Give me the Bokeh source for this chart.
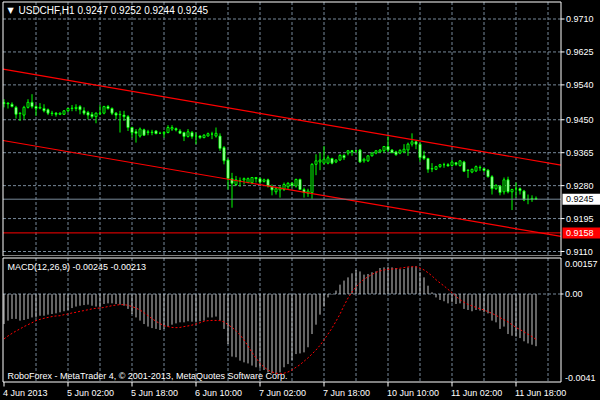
from bokeh.plotting import figure
from bokeh.models import ColumnDataSource, Range1d, GlobalInlineStyleSheet
from bokeh.layouts import column
from bokeh.embed import file_html
from bokeh.resources import INLINE
from bokeh.core.properties import value

# ---------------- data ----------------
symbol = "USDCHF,H1"

open_ = [0.9494, 0.9493, 0.9490, 0.9482, 0.9467, 0.9462, 0.9482, 0.9495, 0.9484, 0.9480,
         0.9479, 0.9476, 0.9467, 0.9467, 0.9464, 0.9464, 0.9473, 0.9479, 0.9479, 0.9484,
         0.9473, 0.9469, 0.9464, 0.9458, 0.9466, 0.9467, 0.9484, 0.9479, 0.9467, 0.9463,
         0.9462, 0.9458, 0.9430, 0.9419, 0.9408, 0.9424, 0.9417, 0.9418, 0.9421, 0.9415,
         0.9415, 0.9417, 0.9426, 0.9427, 0.9421, 0.9417, 0.9407, 0.9417, 0.9408, 0.9408,
         0.9404, 0.9408, 0.9413, 0.9408, 0.9408, 0.9378, 0.9346, 0.9298, 0.9283, 0.9293,
         0.9295, 0.9288, 0.9288, 0.9301, 0.9298, 0.9291, 0.9295, 0.9277, 0.9264, 0.9269,
         0.9270, 0.9277, 0.9286, 0.9279, 0.9296, 0.9270, 0.9260, 0.9262, 0.9335, 0.9341,
         0.9338, 0.9338, 0.9350, 0.9341, 0.9346, 0.9358, 0.9364, 0.9370, 0.9370, 0.9372,
         0.9344, 0.9344, 0.9357, 0.9364, 0.9367, 0.9370, 0.9381, 0.9372, 0.9367, 0.9364,
         0.9367, 0.9372, 0.9387, 0.9393, 0.9387, 0.9357, 0.9350, 0.9324, 0.9322, 0.9329,
         0.9334, 0.9334, 0.9332, 0.9339, 0.9332, 0.9341, 0.9319, 0.9315, 0.9318, 0.9326,
         0.9324, 0.9320, 0.9303, 0.9272, 0.9279, 0.9264, 0.9295, 0.9264, 0.9272, 0.9272,
         0.9266, 0.9245, 0.9244, 0.9247]

high = [0.9503, 0.9495, 0.9495, 0.9486, 0.9469, 0.9486, 0.9503, 0.9516, 0.9488, 0.9493,
        0.9490, 0.9479, 0.9473, 0.9470, 0.9469, 0.9475, 0.9481, 0.9488, 0.9490, 0.9488,
        0.9482, 0.9473, 0.9470, 0.9469, 0.9488, 0.9486, 0.9488, 0.9482, 0.9470, 0.9473,
        0.9473, 0.9462, 0.9432, 0.9426, 0.9430, 0.9427, 0.9424, 0.9424, 0.9423, 0.9419,
        0.9421, 0.9436, 0.9436, 0.9430, 0.9426, 0.9419, 0.9426, 0.9421, 0.9417, 0.9410,
        0.9413, 0.9417, 0.9419, 0.9430, 0.9415, 0.9382, 0.9350, 0.9313, 0.9305, 0.9301,
        0.9301, 0.9301, 0.9301, 0.9302, 0.9301, 0.9298, 0.9298, 0.9283, 0.9277, 0.9279,
        0.9288, 0.9289, 0.9289, 0.9298, 0.9298, 0.9275, 0.9272, 0.9338, 0.9361, 0.9365,
        0.9382, 0.9358, 0.9352, 0.9348, 0.9361, 0.9361, 0.9372, 0.9372, 0.9372, 0.9374,
        0.9352, 0.9358, 0.9367, 0.9372, 0.9374, 0.9382, 0.9407, 0.9374, 0.9370, 0.9374,
        0.9387, 0.9391, 0.9415, 0.9395, 0.9391, 0.9370, 0.9352, 0.9338, 0.9331, 0.9336,
        0.9339, 0.9338, 0.9346, 0.9341, 0.9346, 0.9344, 0.9322, 0.9324, 0.9332, 0.9332,
        0.9326, 0.9322, 0.9307, 0.9283, 0.9281, 0.9301, 0.9303, 0.9272, 0.9288, 0.9275,
        0.9269, 0.9257, 0.9255, 0.9252]

low = [0.9482, 0.9479, 0.9482, 0.9453, 0.9447, 0.9451, 0.9479, 0.9479, 0.9460, 0.9477,
       0.9469, 0.9462, 0.9460, 0.9458, 0.9462, 0.9463, 0.9470, 0.9472, 0.9472, 0.9464,
       0.9462, 0.9451, 0.9453, 0.9441, 0.9462, 0.9464, 0.9476, 0.9462, 0.9451, 0.9417,
       0.9447, 0.9421, 0.9404, 0.9391, 0.9404, 0.9408, 0.9410, 0.9410, 0.9413, 0.9413,
       0.9404, 0.9415, 0.9421, 0.9420, 0.9413, 0.9395, 0.9404, 0.9401, 0.9387, 0.9400,
       0.9402, 0.9407, 0.9400, 0.9404, 0.9370, 0.9335, 0.9270, 0.9223, 0.9279, 0.9277,
       0.9283, 0.9286, 0.9283, 0.9288, 0.9286, 0.9288, 0.9275, 0.9255, 0.9257, 0.9249,
       0.9266, 0.9270, 0.9275, 0.9275, 0.9269, 0.9249, 0.9251, 0.9246, 0.9307, 0.9320,
       0.9335, 0.9335, 0.9335, 0.9338, 0.9344, 0.9346, 0.9358, 0.9357, 0.9364, 0.9339,
       0.9339, 0.9341, 0.9355, 0.9361, 0.9365, 0.9365, 0.9367, 0.9364, 0.9357, 0.9361,
       0.9364, 0.9357, 0.9381, 0.9374, 0.9341, 0.9346, 0.9313, 0.9315, 0.9320, 0.9326,
       0.9326, 0.9329, 0.9329, 0.9331, 0.9329, 0.9315, 0.9300, 0.9312, 0.9315, 0.9318,
       0.9315, 0.9301, 0.9257, 0.9269, 0.9255, 0.9257, 0.9260, 0.9217, 0.9249, 0.9257,
       0.9240, 0.9232, 0.9238, 0.9244]

close = [0.9492, 0.9491, 0.9484, 0.9464, 0.9466, 0.9482, 0.9495, 0.9484, 0.9479, 0.9482,
         0.9473, 0.9467, 0.9466, 0.9464, 0.9467, 0.9473, 0.9479, 0.9480, 0.9482, 0.9476,
         0.9467, 0.9462, 0.9458, 0.9467, 0.9467, 0.9484, 0.9479, 0.9467, 0.9462, 0.9464,
         0.9458, 0.9430, 0.9417, 0.9415, 0.9426, 0.9410, 0.9419, 0.9417, 0.9414, 0.9415,
         0.9417, 0.9430, 0.9430, 0.9424, 0.9415, 0.9407, 0.9419, 0.9407, 0.9408, 0.9404,
         0.9410, 0.9414, 0.9413, 0.9415, 0.9376, 0.9344, 0.9298, 0.9286, 0.9295, 0.9292,
         0.9298, 0.9298, 0.9301, 0.9298, 0.9289, 0.9295, 0.9279, 0.9269, 0.9272, 0.9275,
         0.9283, 0.9286, 0.9281, 0.9296, 0.9270, 0.9262, 0.9266, 0.9335, 0.9344, 0.9346,
         0.9348, 0.9352, 0.9338, 0.9346, 0.9358, 0.9352, 0.9370, 0.9367, 0.9370, 0.9341,
         0.9348, 0.9357, 0.9364, 0.9370, 0.9372, 0.9381, 0.9372, 0.9365, 0.9360, 0.9371,
         0.9374, 0.9387, 0.9393, 0.9387, 0.9352, 0.9350, 0.9322, 0.9323, 0.9329, 0.9334,
         0.9334, 0.9331, 0.9341, 0.9335, 0.9344, 0.9317, 0.9320, 0.9322, 0.9329, 0.9327,
         0.9319, 0.9303, 0.9272, 0.9281, 0.9262, 0.9295, 0.9264, 0.9270, 0.9272, 0.9267,
         0.9243, 0.9244, 0.9247, 0.9245]

macd = [-0.00141, -0.00125, -0.00117, -0.00117, -0.00125, -0.00122, -0.00117, -0.00110, -0.00110, -0.00102,
        -0.00102, -0.00097, -0.00094, -0.00091, -0.00086, -0.00081, -0.00075, -0.00066, -0.00059, -0.00055,
        -0.00052, -0.00050, -0.00055, -0.00059, -0.00063, -0.00047, -0.00044, -0.00044, -0.00047, -0.00050,
        -0.00055, -0.00070, -0.00094, -0.00110, -0.00125, -0.00141, -0.00153, -0.00160, -0.00164, -0.00169,
        -0.00164, -0.00153, -0.00144, -0.00138, -0.00133, -0.00133, -0.00128, -0.00130, -0.00133, -0.00128,
        -0.00125, -0.00110, -0.00110, -0.00106, -0.00125, -0.00164, -0.00235, -0.00294, -0.00297, -0.00313,
        -0.00321, -0.00326, -0.00336, -0.00344, -0.00347, -0.00357, -0.00368, -0.00372, -0.00376, -0.00368,
        -0.00344, -0.00329, -0.00310, -0.00282, -0.00279, -0.00274, -0.00250, -0.00188, -0.00144, -0.00097,
        -0.00059, -0.00016, -0.00003, 0.00016, 0.00044, 0.00063, 0.00078, 0.00097, 0.00113, 0.00106,
        0.00091, 0.00094, 0.00102, 0.00106, 0.00122, 0.00125, 0.00128, 0.00125, 0.00122, 0.00117,
        0.00117, 0.00125, 0.00128, 0.00130, 0.00102, 0.00078, 0.00039, 0.00008, -0.00016, -0.00028,
        -0.00034, -0.00044, -0.00039, -0.00047, -0.00044, -0.00070, -0.00075, -0.00081, -0.00075, -0.00078,
        -0.00086, -0.00091, -0.00125, -0.00133, -0.00164, -0.00153, -0.00188, -0.00196, -0.00200, -0.00207,
        -0.00222, -0.00232, -0.00238, -0.00245]

signal = [-0.00211, -0.00197, -0.00185, -0.00174, -0.00164, -0.00153, -0.00144, -0.00135, -0.00125, -0.00119,
          -0.00114, -0.00110, -0.00106, -0.00103, -0.00102, -0.00097, -0.00094, -0.00089, -0.00086, -0.00081,
          -0.00078, -0.00074, -0.00070, -0.00067, -0.00066, -0.00063, -0.00059, -0.00055, -0.00052, -0.00050,
          -0.00050, -0.00053, -0.00059, -0.00066, -0.00075, -0.00088, -0.00102, -0.00116, -0.00128, -0.00139,
          -0.00149, -0.00153, -0.00157, -0.00158, -0.00157, -0.00153, -0.00150, -0.00146, -0.00141, -0.00135,
          -0.00128, -0.00125, -0.00124, -0.00124, -0.00125, -0.00131, -0.00144, -0.00157, -0.00172, -0.00192,
          -0.00216, -0.00244, -0.00274, -0.00300, -0.00326, -0.00343, -0.00357, -0.00366, -0.00372, -0.00374,
          -0.00372, -0.00366, -0.00357, -0.00344, -0.00332, -0.00316, -0.00300, -0.00282, -0.00263, -0.00241,
          -0.00216, -0.00188, -0.00160, -0.00128, -0.00094, -0.00055, -0.00019, 0.00009, 0.00034, 0.00053,
          0.00069, 0.00081, 0.00092, 0.00102, 0.00108, 0.00113, 0.00116, 0.00117, 0.00119, 0.00121,
          0.00124, 0.00127, 0.00128, 0.00128, 0.00122, 0.00113, 0.00100, 0.00085, 0.00067, 0.00052,
          0.00038, 0.00022, 0.00006, -0.00011, -0.00027, -0.00039, -0.00049, -0.00056, -0.00063, -0.00069,
          -0.00075, -0.00083, -0.00091, -0.00100, -0.00111, -0.00121, -0.00131, -0.00144, -0.00157, -0.00167,
          -0.00178, -0.00189, -0.00200, -0.00213]

price_ticks = [0.9710, 0.9625, 0.9540, 0.9450, 0.9365, 0.9280, 0.9195, 0.9110]
time_ticks = [0, 16, 32, 48, 64, 80, 96, 112, 128]
time_labels = ["4 Jun 2013", "5 Jun 02:00", "5 Jun 18:00", "6 Jun 10:00", "7 Jun 02:00",
               "7 Jun 18:00", "10 Jun 10:00", "11 Jun 02:00", "11 Jun 18:00"]
grid_bars = [8, 16, 24, 32, 40, 48, 56, 64, 72, 80, 88, 96, 104, 112, 120, 128, 136]

channel_bars = [0, 133]
channel_upper = [0.9580, 0.9344]
channel_lower = [0.9396, 0.9160]
red_level = 0.9158

macd_zero = 0.0
macd_scale_top = 0.00157
macd_scale_bottom = -0.0041
macd_scale_labels = ["0.00157", "0.00", "-0.0041"]
macd_name = "MACD(12,26,9)"
copyright_text = "RoboForex - MetaTrader 4, \u00a9 2001-2013, MetaQuotes Software Corp."

# ---------------- style / layout constants ----------------
BG = "#000000"
FG = "#ffffff"
LIME = "#00ff00"
GRIDC = "#778899"
HISTC = "#c8c8c8"
FONT = "Liberation Sans"

W, H_MAIN, H_MACD = 600, 256, 144
BAR0_PX, BAR_PX = 3.5, 4.0          # pixel centre of bar 0, pixels per bar
PRICE0_PX, PRICE_PX = 18.5, 3875.0   # pixel row of the top price tick, pixels per price unit
ZERO_PX, MACD_PX = 37.5, 21300.0     # (local) pixel row of MACD zero, pixels per unit


def xd(px):
    return (px - BAR0_PX) / BAR_PX


def yp(px):
    return price_ticks[0] - (px - PRICE0_PX) / PRICE_PX


def ym(px):
    return macd_zero - (px - ZERO_PX) / MACD_PX


def put_text(fig, x, y, txt, size="9px", color=FG, align="left", baseline="middle", font=FONT):
    fig.text(x=x, y=y, text=txt, text_font=value(font), text_font_size=value(size),
             text_color=color, text_align=align, text_baseline=baseline)


x_range = Range1d(xd(0), xd(W))
LEFT, RIGHT = xd(2.5), xd(560.5)
bars = list(range(len(open_)))

# ---------------- main price panel ----------------
main = figure(width=W, height=H_MAIN, x_range=x_range, y_range=Range1d(yp(H_MAIN), yp(0)),
              output_backend="svg", toolbar_location=None,
              x_axis_location=None, y_axis_location=None,
              background_fill_color=BG, border_fill_color=BG, outline_line_color=None,
              min_border_left=0, min_border_right=0, min_border_top=0, min_border_bottom=0)
main.grid.visible = False

TOP, BOTTOM = yp(1.5), yp(255.5)
main.segment(x0=LEFT, y0=price_ticks, x1=RIGHT, y1=price_ticks,
             line_color=GRIDC, line_width=1, line_dash="3 2")
main.segment(x0=grid_bars, y0=TOP, x1=grid_bars, y1=BOTTOM,
             line_color=GRIDC, line_width=1, line_dash="3 2")

src = ColumnDataSource(dict(
    x=bars, o=open_, h=high, l=low, c=close,
    top=[max(a, b) for a, b in zip(open_, close)],
    bottom=[min(a, b) for a, b in zip(open_, close)],
    fill=["#ffffff" if c < o else "#000000" for o, c in zip(open_, close)],
))
main.segment(x0="x", y0="h", x1="x", y1="l", source=src, line_color=LIME, line_width=1)
main.vbar(x="x", width=0.5, top="top", bottom="bottom", source=src,
          fill_color="fill", line_color=LIME, line_width=1)

for pts in (channel_upper, channel_lower):
    slope = (pts[1] - pts[0]) / (channel_bars[1] - channel_bars[0])
    ys = [pts[0] + slope * (xx - channel_bars[0]) for xx in (LEFT, RIGHT)]
    main.line([LEFT, RIGHT], ys, line_color="#ff0000", line_width=1.2)

bid = close[-1]
main.segment(x0=LEFT, y0=bid, x1=RIGHT, y1=bid, line_color=GRIDC, line_width=1)
main.segment(x0=LEFT, y0=red_level, x1=RIGHT, y1=red_level, line_color="#ff0000", line_width=1)

# panel border
main.quad(left=LEFT, right=RIGHT, top=TOP, bottom=BOTTOM, fill_color=None, line_color=FG, line_width=1)

# price scale on the right
main.segment(x0=RIGHT, y0=price_ticks, x1=xd(564), y1=price_ticks, line_color=FG, line_width=1)
put_text(main, [xd(565.5)] * len(price_ticks), price_ticks, [f"{t:.4f}" for t in price_ticks])

half_box = 5.5 / PRICE_PX
for lvl, fill, tcolor in ((bid, "#ffffff", "#000000"), (red_level, "#ff0000", "#ffffff")):
    main.quad(left=xd(562), right=xd(W), top=lvl + half_box, bottom=lvl - half_box,
              fill_color=fill, line_color=None)
    put_text(main, [xd(565.5)], [lvl], [f"{lvl:.4f}"], color=tcolor)

# title
put_text(main, [xd(7)], [yp(10)], ["\u25bc"], size="8px", font="DejaVu Sans")
title = f"{symbol} {open_[-1]:.4f} {high[-1]:.4f} {low[-1]:.4f} {close[-1]:.4f}"
put_text(main, [xd(18)], [yp(10)], [title], size="10px")

# ---------------- MACD panel ----------------
mp = figure(width=W, height=H_MACD, x_range=x_range, y_range=Range1d(ym(H_MACD), ym(0)),
            output_backend="svg", toolbar_location=None,
            x_axis_location=None, y_axis_location=None,
            background_fill_color=BG, border_fill_color=BG, outline_line_color=None,
            min_border_left=0, min_border_right=0, min_border_top=0, min_border_bottom=0)
mp.grid.visible = False

MTOP, MBOTTOM = ym(1.5), ym(125.5)
mp.segment(x0=grid_bars, y0=MTOP, x1=grid_bars, y1=MBOTTOM,
           line_color=GRIDC, line_width=1, line_dash="3 2")
mp.segment(x0=LEFT, y0=macd_zero, x1=RIGHT, y1=macd_zero,
           line_color=GRIDC, line_width=1, line_dash="3 2")

msrc = ColumnDataSource(dict(x=bars, macd=macd, signal=signal))
mp.segment(x0="x", y0=macd_zero, x1="x", y1="macd", source=msrc, line_color=HISTC, line_width=1)
mp.line("x", "signal", source=msrc, line_color="#ff0000", line_width=1, line_dash="2 2")

mp.quad(left=LEFT, right=RIGHT, top=MTOP, bottom=MBOTTOM, fill_color=None, line_color=FG, line_width=1)

# MACD scale
mp.segment(x0=RIGHT, y0=macd_zero, x1=xd(563), y1=macd_zero, line_color=FG, line_width=1)
for v, t, base in zip([macd_scale_top, macd_zero, macd_scale_bottom], macd_scale_labels,
                      ["top", "middle", "bottom"]):
    put_text(mp, [xd(564.5)], [v], [t], baseline=base)

# time scale
mp.segment(x0=time_ticks, y0=MBOTTOM, x1=time_ticks, y1=ym(130), line_color=FG, line_width=1)
put_text(mp, [t - 1.0 / BAR_PX for t in time_ticks], [ym(136)] * len(time_ticks), time_labels)

# indicator caption and copyright
put_text(mp, [xd(7)], [ym(10)], [f"{macd_name} {macd[-1]:.5f} {signal[-1]:.5f}"])
put_text(mp, [xd(7)], [ym(119.5)], [copyright_text])

layout = column(main, mp, spacing=0,
                stylesheets=[GlobalInlineStyleSheet(css="html, body { background-color: #000000; }")])

open("out.html", "w").write(file_html(layout, INLINE))
